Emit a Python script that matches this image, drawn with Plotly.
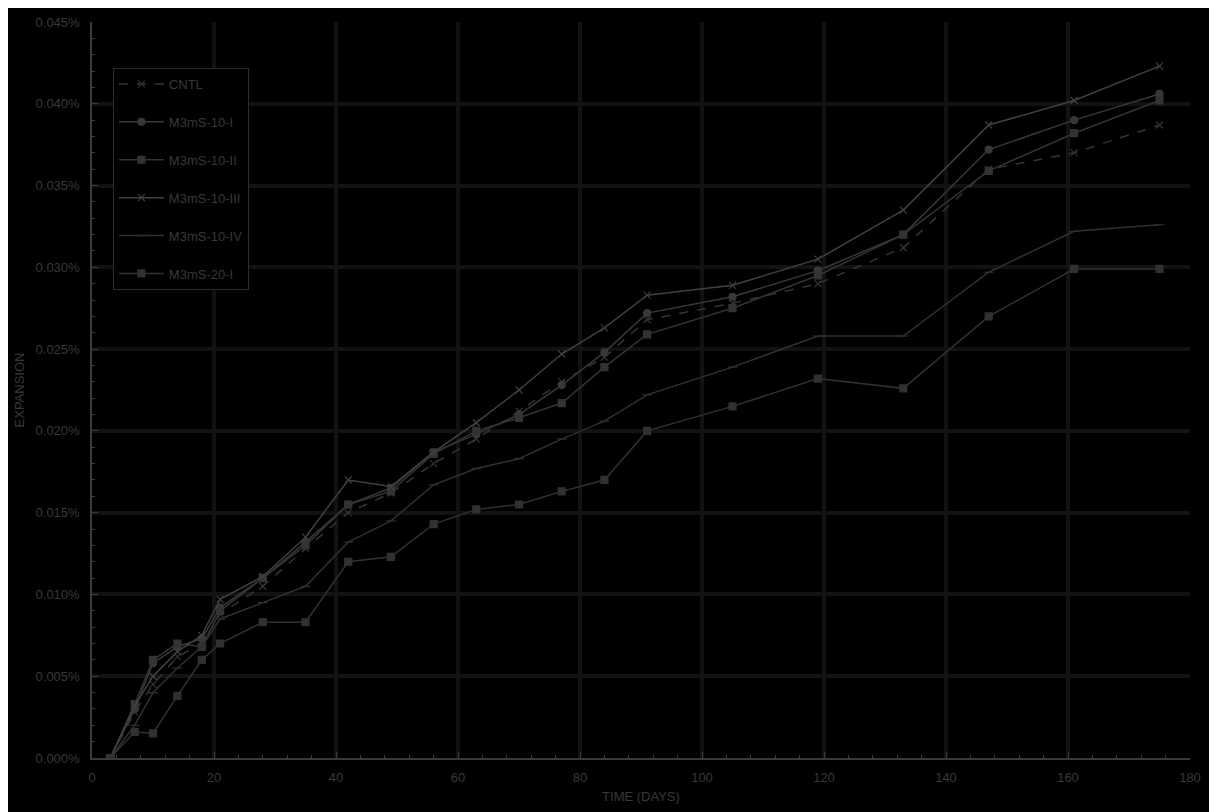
import plotly.graph_objects as go

days = [3, 7, 10, 14, 18, 21, 28, 35, 42, 49, 56, 63, 70, 77, 84, 91, 105, 119, 133, 147, 161, 175]

cntl = [0, 0.0028, 0.0045, 0.0062, 0.0070, 0.0088, 0.0105, 0.0128, 0.0150, 0.0162, 0.0180, 0.0195,
        0.0212, 0.0230, 0.0245, 0.0268, 0.0278, 0.0290, 0.0312, 0.0360, 0.0370, 0.0387]
m10_i = [0, 0.0030, 0.0058, 0.0068, 0.0073, 0.0092, 0.0110, 0.0132, 0.0155, 0.0165, 0.0187, 0.0198,
         0.0210, 0.0228, 0.0248, 0.0272, 0.0282, 0.0298, 0.0320, 0.0372, 0.0390, 0.0406]
m10_ii = [0, 0.0033, 0.0060, 0.0070, 0.0068, 0.0090, 0.0110, 0.0130, 0.0155, 0.0163, 0.0186, 0.0200,
          0.0208, 0.0217, 0.0239, 0.0259, 0.0275, 0.0295, 0.0320, 0.0359, 0.0382, 0.0402]
m10_iii = [0, 0.0032, 0.0050, 0.0065, 0.0075, 0.0097, 0.0111, 0.0135, 0.0170, 0.0166, 0.0187, 0.0205,
           0.0225, 0.0247, 0.0263, 0.0283, 0.0289, 0.0305, 0.0335, 0.0387, 0.0402, 0.0423]
m10_iv = [0, 0.0020, 0.0040, 0.0055, 0.0068, 0.0085, 0.0095, 0.0105, 0.0132, 0.0145, 0.0167, 0.0177,
          0.0183, 0.0195, 0.0206, 0.0222, 0.0239, 0.0258, 0.0258, 0.0297, 0.0322, 0.0326]
m20_i = [0, 0.0016, 0.0015, 0.0038, 0.0060, 0.0070, 0.0083, 0.0083, 0.0120, 0.0123, 0.0143, 0.0152,
         0.0155, 0.0163, 0.0170, 0.0200, 0.0215, 0.0232, 0.0226, 0.0270, 0.0299, 0.0299]

names = ["CNTL", "M3mS-10-I", "M3mS-10-II", "M3mS-10-III", "M3mS-10-IV", "M3mS-20-I"]
series = [cntl, m10_i, m10_ii, m10_iii, m10_iv, m20_i]

styles = [
    dict(dash="dash", symbol="x-thin-open", color="#343434"),
    dict(dash="solid", symbol="circle", color="#383838"),
    dict(dash="solid", symbol="square", color="#333333"),
    dict(dash="solid", symbol="x-thin-open", color="#404040"),
    dict(dash="solid", symbol="line-ew-open", color="#303030"),
    dict(dash="solid", symbol="square", color="#313131"),
]

fig = go.Figure()
for i, (n, s, st) in enumerate(zip(names, series, styles)):
    fig.add_trace(go.Scatter(
        x=days, y=s, name=n, mode="lines+markers", legendgroup=str(i),
        line=dict(color=st["color"], width=1.5, dash=st["dash"]),
        marker=dict(symbol=st["symbol"], size=7, color=st["color"],
                    line=dict(color=st["color"], width=1.2)),
    ))

axis_col = "#3a3a3a"
grid_col = "#121212"
txt_col = "#383838"

fig.update_layout(
    width=1209, height=804,
    paper_bgcolor="#000000", plot_bgcolor="#000000",
    margin=dict(l=84, r=27, t=14, b=54),
    font=dict(family="Liberation Sans, Arial", size=13, color=txt_col),
    showlegend=True,
    legend=dict(x=0.019, y=0.9375, xanchor="left", yanchor="top",
                bgcolor="#000000", bordercolor="#2c2c2c", borderwidth=1,
                font=dict(size=13, color=txt_col), tracegroupgap=18,
                itemwidth=45),
    xaxis=dict(range=[0, 180], dtick=20, tick0=0, showgrid=True, gridcolor=grid_col, gridwidth=4,
               showline=True, linecolor=axis_col, linewidth=1.5, zeroline=False, automargin=False,
               ticks="inside", ticklen=6, tickcolor=axis_col, ticklabelstandoff=7,
               minor=dict(dtick=4, ticks="inside", ticklen=3, tickcolor=axis_col, showgrid=False),
               tickfont=dict(size=13, color=txt_col),
               title=dict(text="TIME (DAYS)", font=dict(size=13, color=txt_col), standoff=8)),
    yaxis=dict(range=[0, 0.045], dtick=0.005, tick0=0, showgrid=True, gridcolor=grid_col, gridwidth=4,
               showline=True, linecolor=axis_col, linewidth=1.5, zeroline=False, automargin=False,
               ticks="inside", ticklen=6, tickcolor=axis_col, ticklabelstandoff=8,
               minor=dict(dtick=0.001, ticks="inside", ticklen=3, tickcolor=axis_col, showgrid=False),
               tickformat=".3f", ticksuffix="%",
               tickfont=dict(size=13, color=txt_col),
               title=dict(text="EXPANSION", font=dict(size=13, color=txt_col), standoff=8)),
)

fig.write_html("out.html")
